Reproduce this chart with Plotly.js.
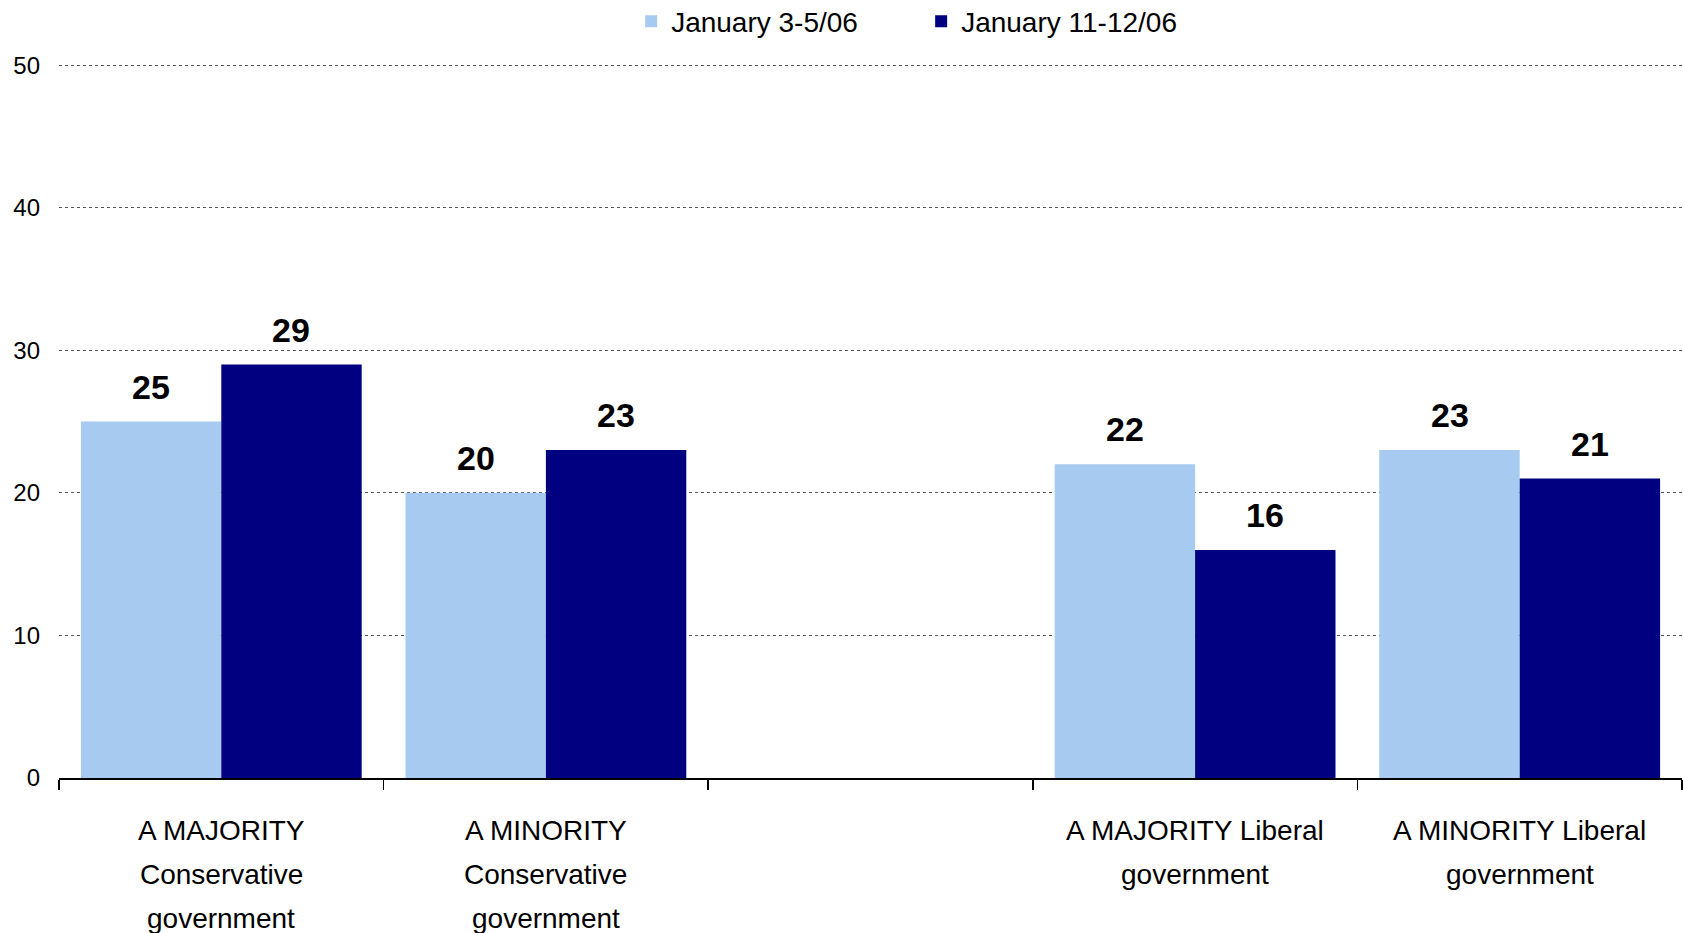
<!DOCTYPE html>
<html>
<head>
<meta charset="utf-8">
<script src="https://cdn.plot.ly/plotly-3.0.1.min.js"></script>
<style>html,body{margin:0;padding:0;background:#fff;}#chart{width:1684px;height:933px;}</style>
</head>
<body>
<div id="chart"></div>
<script>
const categories = [
  'A MAJORITY<br>Conservative<br>government',
  'A MINORITY<br>Conservative<br>government',
  ' ',
  'A MAJORITY Liberal<br>government',
  'A MINORITY Liberal<br>government'
];
const seriesNames = ['January 3-5/06', 'January 11-12/06'];
const jan3to5 = [25, 20, null, 22, 23];
const jan11to12 = [29, 23, null, 16, 21];
const yTickVals = [0, 10, 20, 30, 40, 50];

const FONT = 'Arial, "Liberation Sans", Helvetica, sans-serif';
const colors = ['#A6CAF0', '#000080'];
const seriesVals = [jan3to5, jan11to12];

const traces = seriesVals.map((vals, i) => ({
  type: 'bar',
  name: seriesNames[i],
  x: categories,
  y: vals,
  marker: {color: colors[i], line: {width: 0}},
  hoverinfo: 'none'
}));

const annotations = [];
seriesVals.forEach((vals, i) => {
  vals.forEach((v, j) => {
    if (v === null) return;
    annotations.push({
      xref: 'x', yref: 'y', x: categories[j], y: v,
      text: String(v), showarrow: false,
      xanchor: 'center', yanchor: 'bottom',
      xshift: i === 0 ? -70 : 70, yshift: 14,
      font: {family: FONT, size: 34, color: '#000', weight: 'bold'}
    });
  });
});
categories.forEach((c, j) => {
  c.split('<br>').forEach((line, k) => {
    if (!line.trim()) return;
    annotations.push({
      xref: 'x', yref: 'paper', x: c, y: 0,
      text: line, showarrow: false,
      xanchor: 'center', yanchor: 'middle',
      yshift: -52 - 44 * k,
      font: {family: FONT, size: 28, color: '#000'}
    });
  });
});

const layout = {
  width: 1684, height: 933,
  margin: {l: 59, r: 2, t: 58, b: 155},
  paper_bgcolor: '#fff', plot_bgcolor: '#fff',
  font: {family: FONT, size: 24, color: '#000'},
  barmode: 'group',
  bargap: 0.135,
  bargroupgap: 0,
  showlegend: true,
  legend: {
    orientation: 'h', xref: 'container', yref: 'container',
    x: 0.547, xanchor: 'center', y: 0.977, yanchor: 'middle',
    font: {family: FONT, size: 28, color: '#000'},
    itemwidth: 30, tracegroupgap: 0, entrywidth: 245
  },
  xaxis: {
    type: 'category',
    showticklabels: false,
    showline: true, linecolor: '#000', linewidth: 1.5,
    ticks: 'outside', tickson: 'boundaries', ticklen: 10, tickcolor: '#000', tickwidth: 1.5,
    showgrid: false, zeroline: false, fixedrange: true
  },
  yaxis: {
    range: [0, 50.5], tickvals: yTickVals, ticktext: yTickVals.map(String),
    showline: false, ticks: '', ticklabelstandoff: 18,
    showgrid: true, gridcolor: '#555', gridwidth: 1, griddash: 'dot',
    zeroline: false,
    tickfont: {family: FONT, size: 24, color: '#000'},
    fixedrange: true
  },
  annotations: annotations
};

Plotly.newPlot('chart', traces, layout, {displayModeBar: false, staticPlot: true});
</script>
</body>
</html>
